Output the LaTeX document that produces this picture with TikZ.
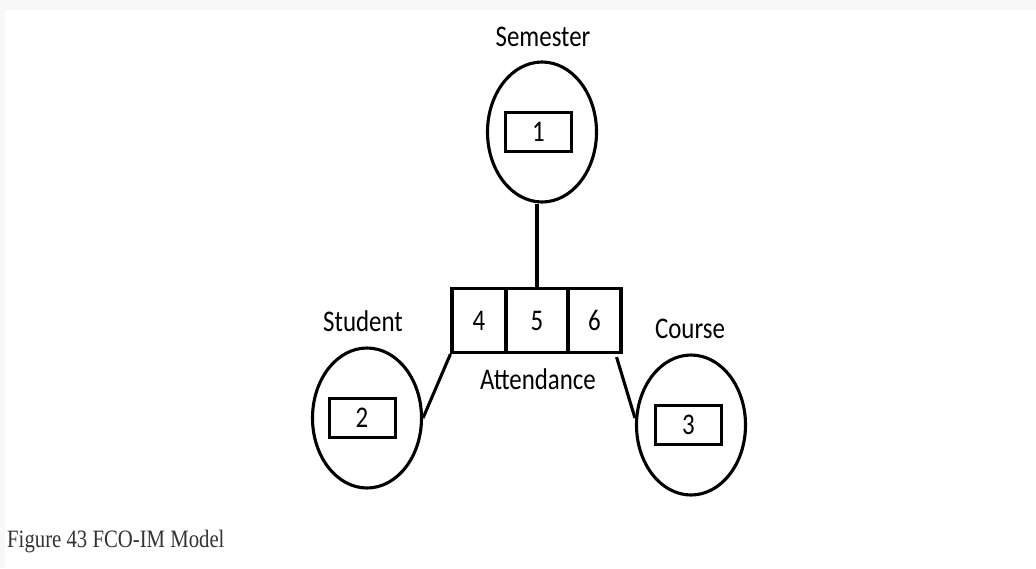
\documentclass[tikz,border=0pt]{standalone}
\usepackage{fontspec}
\setmainfont{Carlito}
\newfontfamily\capfont{Liberation Serif}
\usetikzlibrary{shapes.geometric}
\newcommand{\hsq}[1]{\scalebox{0.83}[1]{#1}}
\definecolor{bandgray}{HTML}{F8F8F8}
\tikzset{
  entity/.style={draw, line width=3.1pt, ellipse, inner sep=0pt, minimum width=109pt, minimum height=140pt},
  numbox/.style={draw, line width=3pt, rectangle, inner sep=0pt, minimum width=66pt, minimum height=39pt,
    font=\fontsize{30}{36}\selectfont, text height=19pt, text depth=0pt},
  cell/.style={draw, line width=3.1pt, rectangle, inner sep=0pt, minimum height=64pt,
    font=\fontsize{30}{36}\selectfont, text height=19pt, text depth=0pt},
  lbl/.style={anchor=base, inner sep=0pt, font=\fontsize{30}{36}\selectfont},
  conn/.style={line width=3.1pt},
}
\begin{document}
\begin{tikzpicture}[x=1pt,y=-1pt]
\useasboundingbox (0,0) rectangle (1036,568);
\fill[white] (0,0) rectangle (1036,568);
\fill[bandgray] (0,0) rectangle (1036,10);
\fill[bandgray] (0,0) rectangle (5,568);
% entities
\node[entity] (sem) at (542,132) {};
\node[entity] (stu) at (367,418) {};
\node[entity] (crs) at (691,425) {};
\node[numbox] (b1) at (538.5,132) {\hsq{1}};
\node[numbox] (b2) at (362,418) {\hsq{2}};
\node[numbox] (b3) at (688.5,425) {\hsq{3}};
% fact type cells
\node[cell, minimum width=54pt] (c4) at (479,320.5) {\hsq{4}};
\node[cell, minimum width=62pt] (c5) at (537,320.5) {\hsq{5}};
\node[cell, minimum width=53pt] (c6) at (594.5,320.5) {\hsq{6}};
% labels
\node[lbl] (lsem) at (543,46) {\hsq{Semester}};
\node[lbl] (lstu) at (363,331) {\hsq{Student}};
\node[lbl] (lcrs) at (690,338) {\hsq{Course}};
\node[lbl] (latt) at (538,389) {\hsq{Attendance}};
% connectors
\draw[conn] (sem.south -| c5.north) -- (c5.north);
\draw[conn] (c4.south west) -- (stu.east);
\draw[conn] ([xshift=-6pt,yshift=-3pt]c6.south east) -- ([yshift=7pt]crs.west);
% caption
\node[anchor=base west, inner sep=0pt, font=\capfont\fontsize{25}{30}\selectfont, text=black!80] (cap) at (7,547) {\hsq{Figure 43 FCO-IM Model}};
\end{tikzpicture}
\end{document}
